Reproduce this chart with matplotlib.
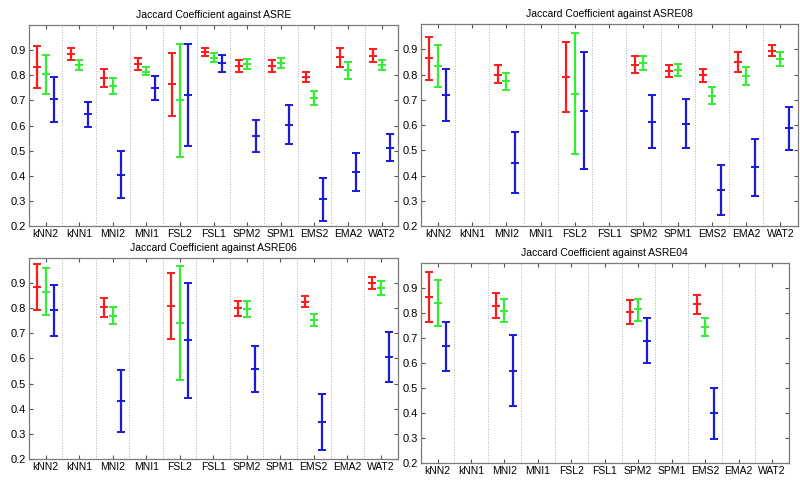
import numpy as np
import matplotlib
matplotlib.use('Agg')
import matplotlib.pyplot as plt

plt.rcParams['font.family'] = ['Liberation Sans', 'DejaVu Sans']

methods = ['kNN2', 'kNN1', 'MNI2', 'MNI1', 'FSL2', 'FSL1',
           'SPM2', 'SPM1', 'EMS2', 'EMA2', 'WAT2']
nan = np.nan

# ---- ASRE ----
asre_red_mean = [0.835, 0.885, 0.790, 0.845, 0.765, 0.892, 0.838, 0.838, 0.793, 0.872, 0.878]
asre_red_lo = [0.750, 0.860, 0.755, 0.820, 0.640, 0.877, 0.815, 0.815, 0.772, 0.835, 0.853]
asre_red_hi = [0.915, 0.910, 0.825, 0.870, 0.890, 0.908, 0.862, 0.862, 0.815, 0.910, 0.905]
asre_green_mean = [0.805, 0.840, 0.758, 0.815, 0.700, 0.870, 0.845, 0.850, 0.708, 0.820, 0.840]
asre_green_lo = [0.725, 0.820, 0.725, 0.800, 0.475, 0.855, 0.825, 0.830, 0.680, 0.785, 0.820]
asre_green_hi = [0.880, 0.860, 0.790, 0.835, 0.925, 0.887, 0.865, 0.870, 0.738, 0.852, 0.862]
asre_blue_mean = [0.705, 0.645, 0.405, 0.748, 0.720, 0.848, 0.558, 0.602, 0.308, 0.415, 0.512]
asre_blue_lo = [0.615, 0.595, 0.310, 0.700, 0.518, 0.812, 0.495, 0.525, 0.222, 0.340, 0.458]
asre_blue_hi = [0.795, 0.695, 0.500, 0.797, 0.923, 0.883, 0.622, 0.680, 0.393, 0.490, 0.567]

# ---- ASRE08 ----
a08_red_mean = [0.865, nan, 0.800, nan, 0.790, nan, 0.840, 0.815, 0.797, 0.850, 0.895]
a08_red_lo = [0.778, nan, 0.765, nan, 0.650, nan, 0.808, 0.790, 0.770, 0.812, 0.873]
a08_red_hi = [0.950, nan, 0.838, nan, 0.928, nan, 0.873, 0.840, 0.823, 0.888, 0.918]
a08_green_mean = [0.835, nan, 0.773, nan, 0.725, nan, 0.845, 0.818, 0.717, 0.795, 0.862]
a08_green_lo = [0.750, nan, 0.740, nan, 0.485, nan, 0.818, 0.795, 0.685, 0.758, 0.835]
a08_green_hi = [0.918, nan, 0.808, nan, 0.965, nan, 0.875, 0.843, 0.750, 0.832, 0.888]
a08_blue_mean = [0.720, nan, 0.450, nan, 0.657, nan, 0.613, 0.605, 0.343, 0.432, 0.587]
a08_blue_lo = [0.618, nan, 0.330, nan, 0.425, nan, 0.510, 0.508, 0.243, 0.318, 0.503]
a08_blue_hi = [0.823, nan, 0.572, nan, 0.890, nan, 0.718, 0.703, 0.443, 0.545, 0.670]

# ---- ASRE06 ----
a06_red_mean = [0.883, nan, 0.803, nan, 0.810, nan, 0.800, nan, 0.825, nan, 0.900]
a06_red_lo = [0.792, nan, 0.765, nan, 0.678, nan, 0.770, nan, 0.803, nan, 0.876]
a06_red_hi = [0.975, nan, 0.840, nan, 0.940, nan, 0.830, nan, 0.847, nan, 0.925]
a06_green_mean = [0.865, nan, 0.770, nan, 0.740, nan, 0.795, nan, 0.752, nan, 0.882]
a06_green_lo = [0.773, nan, 0.737, nan, 0.515, nan, 0.763, nan, 0.727, nan, 0.853]
a06_green_hi = [0.958, nan, 0.803, nan, 0.967, nan, 0.828, nan, 0.778, nan, 0.910]
a06_blue_mean = [0.792, nan, 0.430, nan, 0.672, nan, 0.557, nan, 0.348, nan, 0.605]
a06_blue_lo = [0.690, nan, 0.305, nan, 0.442, nan, 0.465, nan, 0.235, nan, 0.505]
a06_blue_hi = [0.893, nan, 0.553, nan, 0.900, nan, 0.648, nan, 0.460, nan, 0.705]

# ---- ASRE04 ----
a04_red_mean = [0.865, nan, 0.830, nan, nan, nan, 0.805, nan, 0.835, nan, nan]
a04_red_lo = [0.765, nan, 0.780, nan, nan, nan, 0.758, nan, 0.797, nan, nan]
a04_red_hi = [0.965, nan, 0.880, nan, nan, nan, 0.852, nan, 0.872, nan, nan]
a04_green_mean = [0.840, nan, 0.810, nan, nan, nan, 0.815, nan, 0.745, nan, nan]
a04_green_lo = [0.748, nan, 0.765, nan, nan, nan, 0.767, nan, 0.708, nan, nan]
a04_green_hi = [0.932, nan, 0.855, nan, nan, nan, 0.858, nan, 0.780, nan, nan]
a04_blue_mean = [0.667, nan, 0.570, nan, nan, nan, 0.690, nan, 0.400, nan, nan]
a04_blue_lo = [0.568, nan, 0.428, nan, nan, nan, 0.600, nan, 0.295, nan, nan]
a04_blue_hi = [0.765, nan, 0.712, nan, nan, nan, 0.780, nan, 0.502, nan, nan]

panels = [
    ('Jaccard Coefficient against ASRE', [0.036, 0.532, 0.462, 0.416],
     [(asre_red_mean, asre_red_lo, asre_red_hi),
      (asre_green_mean, asre_green_lo, asre_green_hi),
      (asre_blue_mean, asre_blue_lo, asre_blue_hi)]),
    ('Jaccard Coefficient against ASRE08', [0.526, 0.532, 0.471, 0.418],
     [(a08_red_mean, a08_red_lo, a08_red_hi),
      (a08_green_mean, a08_green_lo, a08_green_hi),
      (a08_blue_mean, a08_blue_lo, a08_blue_hi)]),
    ('Jaccard Coefficient against ASRE06', [0.036, 0.050, 0.461, 0.416],
     [(a06_red_mean, a06_red_lo, a06_red_hi),
      (a06_green_mean, a06_green_lo, a06_green_hi),
      (a06_blue_mean, a06_blue_lo, a06_blue_hi)]),
    ('Jaccard Coefficient against ASRE04', [0.526, 0.041, 0.460, 0.414],
     [(a04_red_mean, a04_red_lo, a04_red_hi),
      (a04_green_mean, a04_green_lo, a04_green_hi),
      (a04_blue_mean, a04_blue_lo, a04_blue_hi)]),
]

colors = ['#ff1a1a', '#33ee33', '#1a1ad9']
offsets = [-0.25, 0.0, 0.25]

fig = plt.figure(figsize=(8, 4.83), dpi=100)

x = np.arange(1, len(methods) + 1)
for title, rect, series in panels:
    ax = fig.add_axes(rect)
    for (mean, lo, hi), col, off in zip(series, colors, offsets):
        mean = np.array(mean)
        lo = np.array(lo)
        hi = np.array(hi)
        err = np.vstack([mean - lo, hi - mean])
        ax.errorbar(x + off, mean, yerr=err, fmt='_', color=col,
                    ecolor=col, elinewidth=1.6, capsize=3, capthick=1.3,
                    markersize=6, markeredgewidth=1.4)
    ax.set_xlim(0.5, len(methods) + 0.5)
    ax.set_ylim(0.2, 1.0)
    ax.set_yticks(np.arange(0.2, 0.91, 0.1))
    ax.set_yticklabels(['%.1f' % v for v in np.arange(0.2, 0.91, 0.1)])
    ax.set_xticks(x)
    ax.set_xticklabels(methods)
    ax.set_xticks(np.arange(1.5, len(methods)), minor=True)
    ax.grid(True, which='minor', axis='x', linestyle=':', color='#b0b0b0', linewidth=0.7)
    ax.tick_params(axis='both', which='major', direction='in', length=3,
                   labelsize=7.5, top=True, right=True, color='#555555', pad=2)
    ax.tick_params(axis='y', labelsize=8)
    ax.tick_params(axis='x', which='minor', length=0)
    for s in ax.spines.values():
        s.set_color('#7a7a7a')
        s.set_linewidth(0.9)
    ax.set_title(title, fontsize=7.5, pad=5)

plt.savefig('out.png', dpi=100)
